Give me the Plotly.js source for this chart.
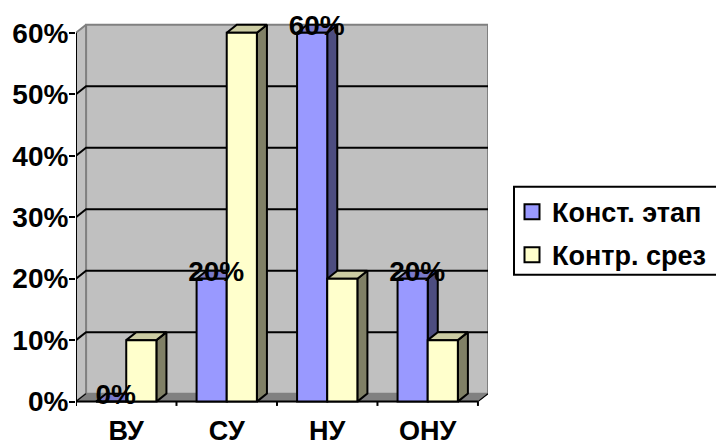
<!DOCTYPE html>
<html><head><meta charset="utf-8">
<script src="https://cdn.plot.ly/plotly-3.0.1.min.js"></script>
<style>html,body{margin:0;padding:0;background:#fff;overflow:hidden}</style>
</head><body><div id="chart" style="width:716px;height:441px"></div>
<script>
const categories = ['ВУ','СУ','НУ','ОНУ'];
const konstName = 'Конст. этап';
const kontrName = 'Контр. срез';
const konst = [0,20,60,20];
const kontr = [10,60,20,10];
const konstLabels = ['0%','20%','60%','20%'];
const yTicks = [0,10,20,30,40,50,60];
const yTickText = ['0%','10%','20%','30%','40%','50%','60%'];

const FONT = 'Liberation Sans, Arial, sans-serif';
const dx = 0.1, dy = 1.3, barW = 0.3, gap = 0.2;
const idx = categories.map((_,i)=>i);
const n = categories.length;
const yMax = yTicks[yTicks.length-1];

function poly(pts, fillcolor, line, z){
  return {type:'scatter',mode:'lines',x:pts.map(p=>p?p[0]:null),y:pts.map(p=>p?p[1]:null),
    fill:'toself',fillcolor,line:line,zorder:z,showlegend:false,hoverinfo:'skip',cliponaxis:false};
}
function seg(pts,color,w,z){
  return {type:'scatter',mode:'lines',x:pts.map(p=>p?p[0]:null),y:pts.map(p=>p?p[1]:null),
    line:{color,width:w},zorder:z,showlegend:false,hoverinfo:'skip',cliponaxis:false};
}
function sides(vals,off){
  const p=[];
  vals.forEach((v,i)=>{const r=i+off+barW;
    p.push([r,0],[r+dx,dy],[r+dx,v+dy],[r,v],[r,0],null);});
  return p;
}
function tops(vals,off){
  const p=[];
  vals.forEach((v,i)=>{const l=i+off,r=l+barW;
    p.push([l,v],[l+dx,v+dy],[r+dx,v+dy],[r,v],[l,v],null);});
  return p;
}
const edge={color:'#000',width:2};
const traces=[];
// walls
traces.push(poly([[dx,dy],[n+dx,dy],[n+dx,yMax+dy],[dx,yMax+dy],[dx,dy]],'#C0C0C0',{color:'#808080',width:2},-3));
traces.push(poly([[0,0],[dx,dy],[dx,yMax+dy],[0,yMax],[0,0]],'#C0C0C0',{color:'#808080',width:2},-3));
traces.push(poly([[0,0],[n,0],[n+dx,dy],[dx,dy],[0,0]],'#808080',{color:'#808080',width:1},-3));
// gridlines
const grid=[];
yTicks.slice(1,-1).forEach(v=>{grid.push([0,v],[dx,v+dy],[n+dx,v+dy],null);});
traces.push(seg(grid,'#000',2,-2));
// axis lines
traces.push(seg([[0,yMax],[0,0],[n,0]],'#000',2,-1));
traces.push(seg([[0,0],[dx,dy],null,[n,0],[n+dx,dy]],'#000',1.2,-1));
const xtickSegs=[];
for(let i=0;i<=n;i++){xtickSegs.push([i,0],[i,-0.7],null);}
traces.push(seg(xtickSegs,'#000',2,-1));
// blue bars
traces.push(poly(sides(konst,gap),'#4D4D80',edge,0));
traces.push(poly(tops(konst,gap),'#7A7ACC',edge,0));
traces.push({type:'bar',x:idx.map(i=>i+0.5),y:konst,width:barW,offset:-barW,
  marker:{color:'#9999FF',line:{color:'#000',width:2}},showlegend:false,hoverinfo:'skip',zorder:1});
// yellow bars
traces.push(poly(sides(kontr,gap+barW),'#808066',edge,2));
traces.push(poly(tops(kontr,gap+barW),'#CCCCA3',edge,2));
traces.push({type:'bar',x:idx.map(i=>i+0.5),y:kontr,width:barW,offset:0,
  marker:{color:'#FFFFCC',line:{color:'#000',width:2}},showlegend:false,hoverinfo:'skip',zorder:3});
// data labels
traces.push({type:'scatter',mode:'text',x:idx.map(i=>i+gap+barW/2+0.045),y:konst.map(v=>v+0.7),
  text:konstLabels,textposition:'middle center',cliponaxis:false,
  textfont:{family:FONT,size:28,weight:700,color:'#000'},showlegend:false,hoverinfo:'skip',zorder:4});
// legend keys
traces.push({type:'scatter',mode:'markers',x:[null],y:[null],name:konstName,legendgroup:'a',
  marker:{symbol:'square',size:15,color:'#9999FF',line:{color:'#000',width:2}},zorder:5});
traces.push({type:'scatter',mode:'markers',x:[null],y:[null],name:kontrName,legendgroup:'b',
  marker:{symbol:'square',size:15,color:'#FFFFCC',line:{color:'#000',width:2}},zorder:5});

const unit=6.15, zeroPx=402, yLo=-1.2, yHi=65;
const plotW=412, plotH=(yHi-yLo)*unit, mL=76, mT=zeroPx-yHi*unit;
const bottomPx=mT+plotH;
const legY=(bottomPx-188)/plotH;
const layout={
  width:716,height:441,paper_bgcolor:'#fff',plot_bgcolor:'rgba(0,0,0,0)',
  margin:{l:mL,r:716-mL-plotW,t:mT,b:441-bottomPx,pad:0,autoexpand:false},
  barmode:'overlay',
  xaxis:{range:[0,n+dx],tickmode:'array',tickvals:idx.map(i=>i+0.5),ticktext:categories,
    ticks:'',showgrid:false,zeroline:false,showline:false,ticklabelstandoff:3,
    tickfont:{family:FONT,size:27,weight:700,color:'#000'}},
  yaxis:{range:[yLo,yHi],tickmode:'array',tickvals:yTicks,ticktext:yTickText,
    ticks:'outside',ticklen:6,tickwidth:2,tickcolor:'#000',showgrid:false,zeroline:false,showline:false,
    ticklabelstandoff:-5,
    tickfont:{family:FONT,size:28,weight:700,color:'#000'}},
  legend:{x:(512-mL)/plotW,xanchor:'left',y:legY,yanchor:'top',
    bgcolor:'rgba(0,0,0,0)',borderwidth:0,tracegroupgap:5,itemsizing:'trace',
    font:{family:FONT,size:27,weight:700,color:'#000'}},
  shapes:[{type:'rect',xref:'paper',yref:'paper',layer:'above',
    x0:(514-mL)/plotW,x1:(730-mL)/plotW,y0:(bottomPx-275)/plotH,y1:(bottomPx-187)/plotH,
    line:{color:'#000',width:2},fillcolor:'rgba(0,0,0,0)'}],
  showlegend:true,hovermode:false
};
Plotly.newPlot('chart',traces,layout,{displayModeBar:false,staticPlot:true});
</script></body></html>
